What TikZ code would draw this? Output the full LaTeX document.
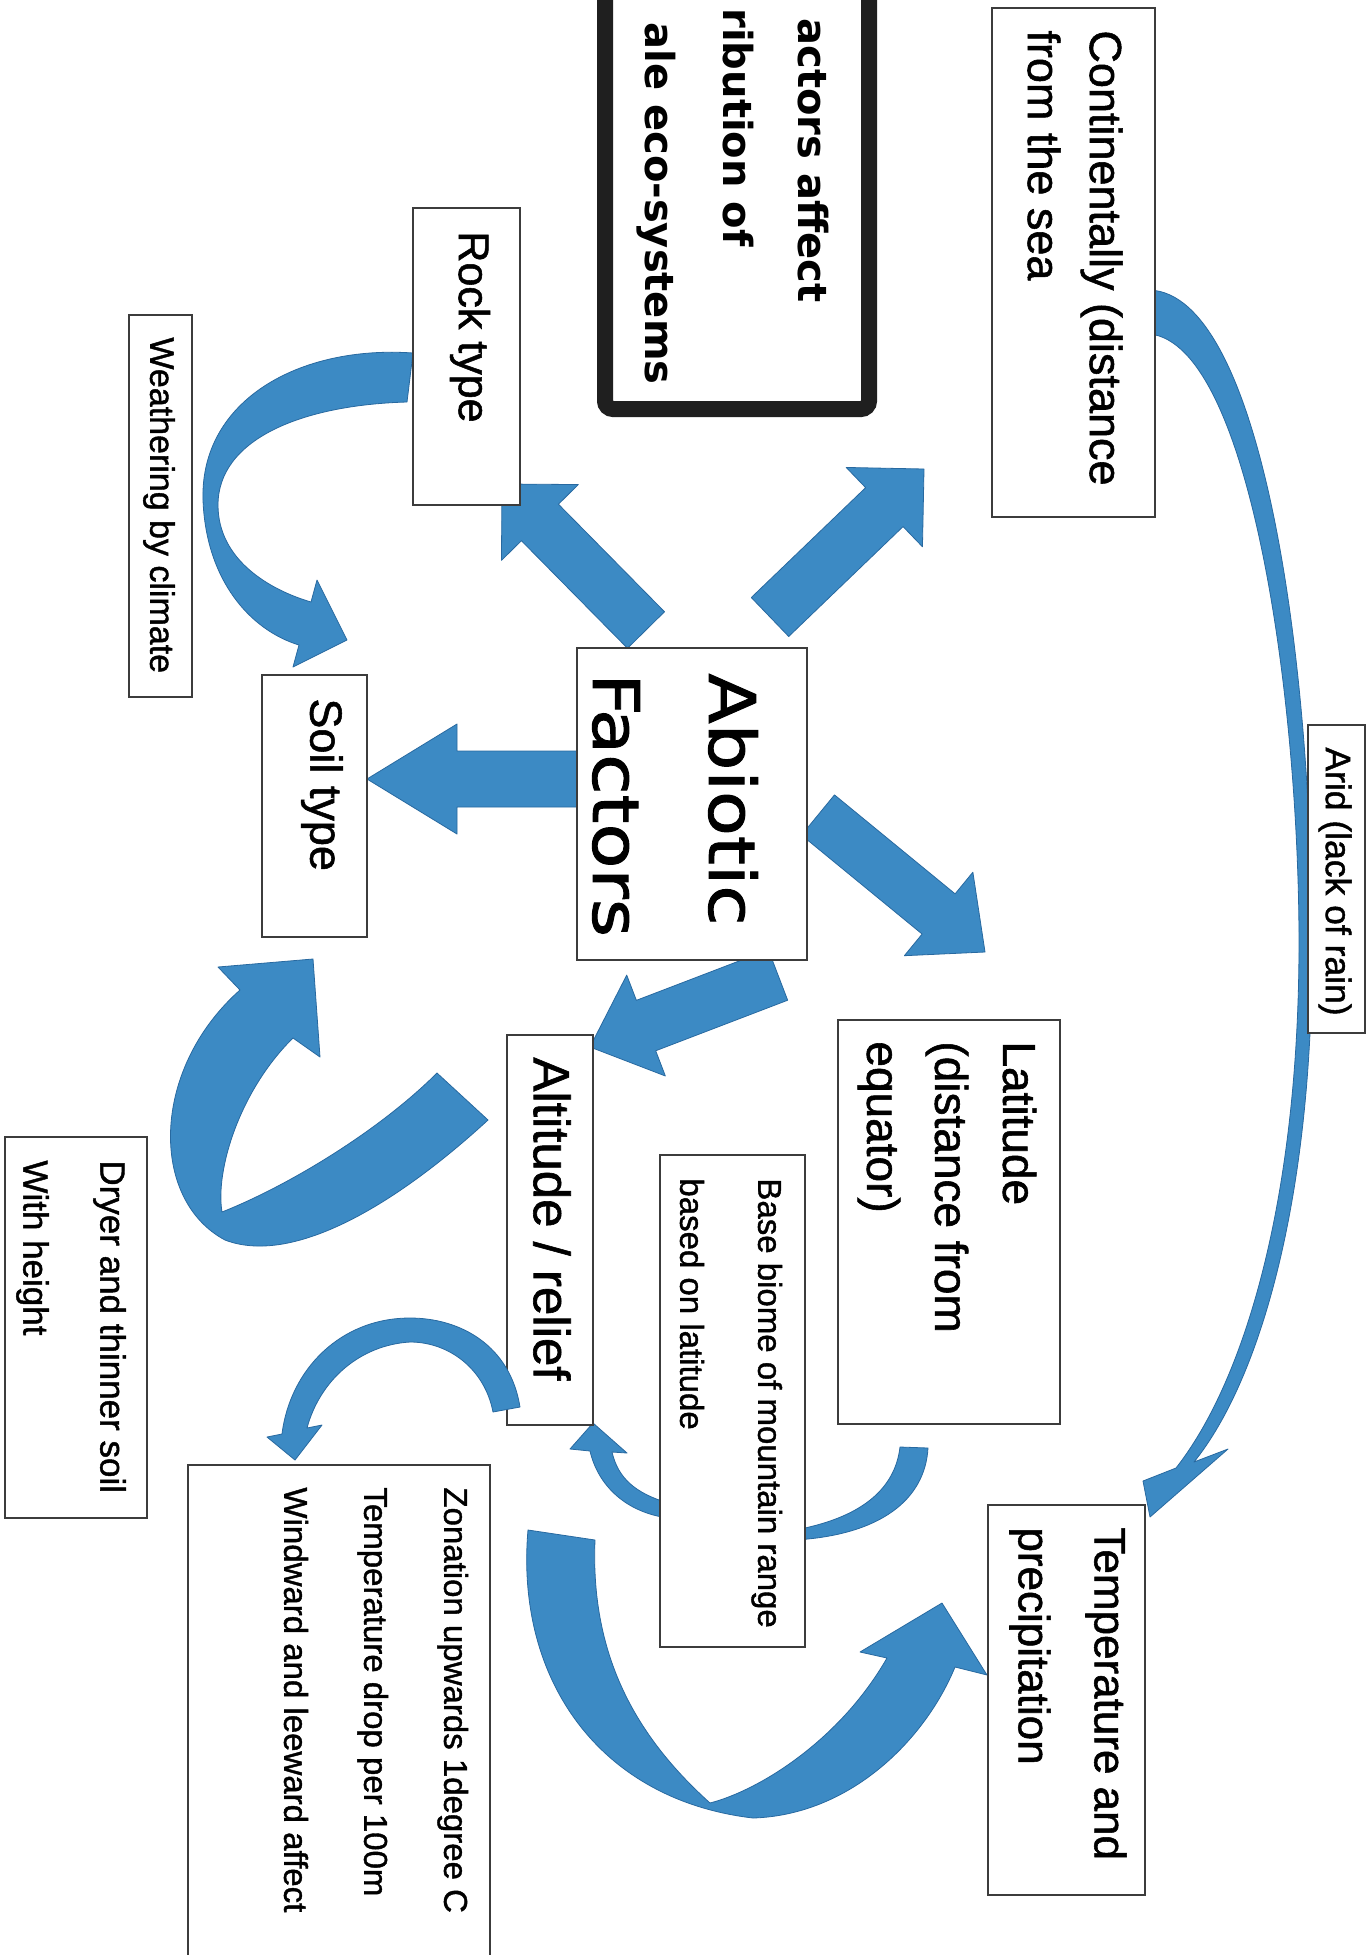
\documentclass[tikz,border=0pt]{standalone}
\usepackage{fontspec}
\setmainfont{Liberation Sans}[FakeBold=1.2]
\newfontfamily\comicfont{DejaVu Sans}[FakeStretch=1.15,FakeBold=1.5]
\newfontfamily\titlefont{DejaVu Sans}
\usetikzlibrary{calc,fit}
\definecolor{arrowblue}{RGB}{60,138,196}
\definecolor{arrowedge}{RGB}{40,105,160}
\definecolor{boxline}{RGB}{60,60,60}
\newcommand\blockarrow[5]{%
  \coordinate (hb) at ($(#2)!#5!(#1)$);
  \path[arrowfill] ($(#1)!#3!90:(#2)$) -- ($(hb)!#3!90:(#2)$) -- ($(hb)!#4!90:(#2)$) -- (#2)
    -- ($(hb)!#4!-90:(#2)$) -- ($(hb)!#3!-90:(#2)$) -- ($(#1)!#3!-90:(#2)$) -- cycle;}
\begin{document}
\begin{tikzpicture}[x=0.5pt, y=-0.5pt,
  boxst/.style={draw=boxline, line width=1pt, fill=white, inner sep=0pt},
  txt/.style={rotate=-90, anchor=west, inner sep=0pt, align=left, text=black},
  arrowfill/.style={fill=arrowblue, draw=arrowedge, line width=0.4pt, line join=round}]

\fill[white] (0,0) rectangle (1369,1955);
\useasboundingbox (0,0) rectangle (1369,1955);
\begin{scope}
\clip (0,0) rectangle (1369,1955);

% ---------- straight block arrows from Abiotic Factors ----------
\coordinate (aS) at (770,617);  \coordinate (aT) at (924,469);
\blockarrow{aS}{aT}{13.5pt}{27.5pt}{27.5pt}
\coordinate (bS) at (646,630);  \coordinate (bT) at (502,484);
\blockarrow{bS}{bT}{13pt}{27pt}{27pt}
\coordinate (cS) at (600,779);  \coordinate (cT) at (367,779);
\blockarrow{cS}{cT}{14pt}{27.5pt}{45pt}
\coordinate (dS) at (818,815);  \coordinate (dT) at (985,952);
\blockarrow{dS}{dT}{13pt}{27pt}{30pt}
\coordinate (eS) at (778,975);  \coordinate (eT) at (590,1047);
\blockarrow{eS}{eT}{13.5pt}{27pt}{30pt}

% ---------- curved arrows ----------
% Rock type -> Soil type (weathering)
\path[arrowfill] (413,353) .. controls (300,345) and (200,400) .. (203,500)
  .. controls (206,580) and (250,630) .. (299,645) -- (293,667) -- (347,640) -- (317,580) -- (311,602)
  .. controls (270,590) and (218,560) .. (218,505)
  .. controls (218,440) and (300,405) .. (407,402) -- cycle;
% Continentally -> Temperature and precipitation (arid)
\path[arrowfill] (1150,290) .. controls (1260,295) and (1312,650) .. (1312,950)
  .. controls (1312,1200) and (1260,1380) .. (1194,1462) -- (1228,1449) -- (1150,1517) -- (1143,1481) -- (1176,1468)
  .. controls (1245,1380) and (1298,1200) .. (1299,950)
  .. controls (1300,700) and (1250,345) .. (1150,334) -- cycle;
% Altitude -> Soil type (dryer and thinner soil)
\path[arrowfill] (488,1120) .. controls (390,1210) and (290,1265) .. (225,1240)
  .. controls (150,1200) and (150,1070) .. (240,990) -- (218,967) -- (313,959) -- (320,1057) -- (293,1038)
  .. controls (240,1090) and (215,1170) .. (222,1212)
  .. controls (290,1185) and (380,1130) .. (437,1073) -- cycle;
% Altitude -> Temperature and precipitation (big U)
\path[arrowfill] (528,1530) .. controls (515,1680) and (600,1800) .. (753,1818)
  .. controls (850,1815) and (925,1740) .. (955,1667) -- (987,1675) -- (942,1603) -- (860,1652) -- (887,1658)
  .. controls (840,1740) and (760,1790) .. (710,1803)
  .. controls (640,1740) and (590,1660) .. (595,1540) -- cycle;
% Latitude -> Base biome
\path[arrowfill] (928,1448) .. controls (925,1500) and (880,1535) .. (795,1540) -- (795,1530)
  .. controls (860,1518) and (895,1490) .. (900,1447) -- cycle;
% Base biome -> Altitude
\path[arrowfill] (668,1503) .. controls (635,1493) and (618,1478) .. (612,1452) -- (627,1453) -- (593,1423)
  -- (570,1449) -- (590,1451) .. controls (598,1485) and (625,1512) .. (668,1518) -- cycle;

% ---------- boxes ----------
\draw[draw=black!88, line width=8pt, rounded corners=4pt] (605,-10) -- (605,409) -- (869,409) -- (869,-10);
\node[boxst, fit={(992,8) (1155,517)}] (cont) {};
\node[boxst, fit={(1308,725) (1365,1033)}] (arid) {};
\node[boxst, fit={(577,648) (807,960)}] (abio) {};
\node[boxst, fit={(413,208) (520,505)}] (rock) {};
\node[boxst, fit={(129,315) (192,697)}] (weath) {};
\node[boxst, fit={(262,675) (367,937)}] (soil) {};
\node[boxst, fit={(838,1020) (1060,1424)}] (lat) {};
\node[boxst, fit={(507,1035) (593,1425)}] (alt) {};
\node[boxst, fit={(660,1155) (805,1647)}] (base) {};
\node[inner sep=0pt, fill=white, fit={(188,1465) (490,1955)}] (zon) {};
\draw[draw=boxline, line width=1pt] (zon.south west) |- (zon.north east) -- (zon.south east);
\node[boxst, fit={(5,1137) (147,1518)}] (dry) {};
\node[boxst, fit={(988,1505) (1145,1895)}] (temp) {};

% Altitude -> Zonation (drawn over the Altitude box edge)
\path[arrowfill] (520,1407) .. controls (510,1345) and (460,1318) .. (410,1318)
  .. controls (340,1318) and (290,1370) .. (282,1434) -- (267,1437) -- (295,1460) -- (322,1425) -- (307,1428)
  .. controls (320,1380) and (360,1345) .. (410,1342)
  .. controls (450,1342) and (485,1370) .. (493,1412) -- cycle;

% ---------- texts ----------
\node[txt, anchor=east, font={\titlefont\bfseries\fontsize{20pt}{24pt}\selectfont}] (title1) at (813,303) {actors affect};
\node[txt, anchor=east, font={\titlefont\bfseries\fontsize{20pt}{24pt}\selectfont}] (title2) at (738,247) {ribution of};
\node[txt, anchor=east, font={\titlefont\bfseries\fontsize{20pt}{24pt}\selectfont}] (title3) at (656,385) {ale eco-systems};

\node[txt, font=\fontsize{22.5pt}{31pt}\selectfont] (cont-t) at (1075,30) {Continentally (distance\\from the sea};
\node[txt, font=\fontsize{17.75pt}{20pt}\selectfont] (arid-t) at (1335,747) {Arid (lack of rain)};
\node[txt, font={\comicfont\fontsize{32pt}{58pt}\selectfont}] (abio-t) at (675,673) {Abiotic\\Factors};
\node[txt, font=\fontsize{21.5pt}{26pt}\selectfont] (rock-t) at (470,231) {Rock type};
\node[txt, font=\fontsize{17pt}{20pt}\selectfont] (weath-t) at (159,337) {Weathering by climate};
\node[txt, font=\fontsize{22.5pt}{27pt}\selectfont] (soil-t) at (322,698) {Soil type};
\node[txt, font=\fontsize{23pt}{34pt}\selectfont] (lat-t) at (947,1041) {Latitude\\(distance from\\equator)};
\node[txt, font=\fontsize{25.5pt}{30pt}\selectfont] (alt-t) at (552,1057) {Altitude / relief};
\node[txt, font=\fontsize{16.5pt}{39pt}\selectfont] (base-t) at (731,1178) {Base biome of mountain range\\based on latitude};
\node[txt, font=\fontsize{16.5pt}{40pt}\selectfont] (zon-t) at (376,1487) {Zonation upwards 1degree C\\Temperature drop per 100m\\Windward and leeward affect};
\node[txt, font=\fontsize{17.5pt}{38.5pt}\selectfont] (dry-t) at (71,1160) {Dryer and thinner soil\\With height};
\node[txt, font=\fontsize{22pt}{38pt}\selectfont] (temp-t) at (1068,1527) {Temperature and\\precipitation};
\end{scope}
\end{tikzpicture}
\end{document}
